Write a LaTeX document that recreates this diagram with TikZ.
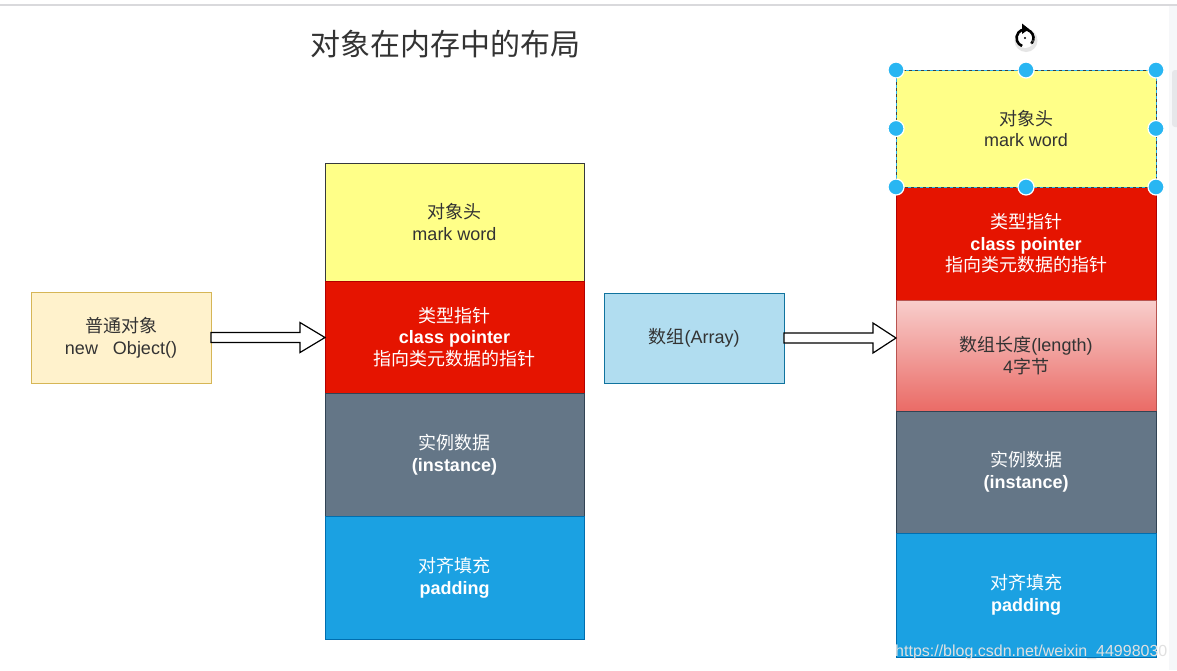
\documentclass[tikz,border=0pt]{standalone}
\usepackage{fontspec}
\setmainfont{Liberation Sans}
\newfontfamily\cjk{Noto Sans CJK SC}
\usetikzlibrary{calc,arrows.meta}
\definecolor{yelfill}{HTML}{FFFF88}
\definecolor{yelline}{HTML}{36393D}
\definecolor{redfill}{HTML}{E51400}
\definecolor{redline}{HTML}{B20000}
\definecolor{grayfill}{HTML}{647687}
\definecolor{grayline}{HTML}{314354}
\definecolor{bluefill}{HTML}{1BA1E2}
\definecolor{blueline}{HTML}{006EAF}
\definecolor{beigefill}{HTML}{FFF2CC}
\definecolor{beigeline}{HTML}{D6B656}
\definecolor{arrfill}{HTML}{B1DDF0}
\definecolor{arrline}{HTML}{10739E}
\definecolor{pinktop}{HTML}{F8CECC}
\definecolor{pinkbot}{HTML}{EA6B66}
\definecolor{pinkline}{HTML}{B85450}
\definecolor{selblue}{HTML}{29B6F2}
\definecolor{darktext}{HTML}{333333}
\definecolor{topline}{HTML}{D9D9DC}
\definecolor{stripgray}{HTML}{F6F7F9}
\definecolor{thumbgray}{HTML}{E6E7EA}
\begin{document}
\begin{tikzpicture}[x=1pt,y=-1pt,
  lbl/.style={font=\fontsize{18}{21.6}\selectfont, align=center},
  blk/.style={lbl, draw, line width=1pt, inner sep=0pt, outer sep=0pt},
  lstk/.style={blk, minimum width=259pt},
  rstk/.style={blk, minimum width=260pt},
  yelblk/.style={fill=yelfill, draw=yelline, text=darktext},
  redblk/.style={fill=redfill, draw=redline, text=white},
  grayblk/.style={fill=grayfill, draw=grayline, text=white},
  blueblk/.style={fill=bluefill, draw=blueline, text=white},
  flex/.style={draw=black, fill=white, line width=1.2pt, line join=miter},
  handle/.style={circle, fill=selblue, draw=white, line width=1.2pt, minimum size=16pt, inner sep=0pt},
]
\useasboundingbox (0,0) rectangle (1177,670);
\fill[white] (0,0) rectangle (1177,670);
\fill[stripgray] (1169,6) rectangle (1177,670);
\fill[thumbgray, rounded corners=3pt] (1172,70) rectangle (1180,127);
\fill[topline] (0,3.5) rectangle (1177,6);

% title
\node[text=darktext, font=\cjk\fontsize{30}{36}\selectfont] (title) at (445,44) {对象在内存中的布局};

% left object
\node[blk, fill=beigefill, draw=beigeline, text=darktext, minimum width=180pt, minimum height=91pt] (obj) at (121,337.5)
  {{\cjk 普通对象}\\new\ \ \ Object()};

% left stack
\node[lstk, yelblk, minimum height=118pt] (lyel) at (454.5,222) {{\cjk 对象头}\\mark word};
\node[lstk, redblk, minimum height=112pt] (lred) at (454.5,337) {{\cjk 类型指针}\\\textbf{class pointer}\\{\cjk 指向类元数据的指针}};
\node[lstk, grayblk, minimum height=123pt] (lgray) at (454.5,454.5) {{\cjk 实例数据}\\\textbf{(instance)}};
\node[lstk, blueblk, minimum height=123pt] (lblue) at (454.5,577.5) {{\cjk 对齐填充}\\\textbf{padding}};

% array
\node[blk, fill=arrfill, draw=arrline, text=darktext, minimum width=180pt, minimum height=90pt] (arr) at (694,338)
  {{\cjk 数组}(Array)};

% right stack
\node[rstk, yelblk, minimum height=117pt] (ryel) at (1026,128.5) {{\cjk 对象头}\\mark word};
\node[rstk, redblk, minimum height=113pt] (rred) at (1026,243.5) {{\cjk 类型指针}\\\textbf{class pointer}\\{\cjk 指向类元数据的指针}};
\node[rstk, top color=pinktop, bottom color=pinkbot, draw=pinkline, text=darktext, minimum height=111pt] (rpink) at (1026,355.5) {{\cjk 数组长度}(length)\\4{\cjk 字节}};
\node[rstk, grayblk, minimum height=122pt] (rgray) at (1026,472) {{\cjk 实例数据}\\\textbf{(instance)}};
\node[rstk, blueblk, minimum height=124pt] (rblue) at (1026,595) {{\cjk 对齐填充}\\\textbf{padding}};

% flex arrows
\draw[flex] (obj.east) ++(0,-5) -- ++(89,0) -- ++(0,-10) -- ++(25,15) -- ++(-25,15) -- ++(0,-10) -- ++(-89,0) -- cycle;
\draw[flex] (arr.east) ++(0,-5) -- ++(89,0) -- ++(0,-10) -- ++(23,15) -- ++(-23,15) -- ++(0,-10) -- ++(-89,0) -- cycle;

% selection on right header
\draw[selblue, line width=1pt] (ryel.north west) rectangle (ryel.south east);
\draw[black!75, line width=1pt, dash pattern=on 3pt off 3pt] (ryel.north west) rectangle (ryel.south east);
\foreach \a in {north west,north,north east,west,east,south west,south,south east}
  \node[handle] at (ryel.\a) {};

% rotate icon
\coordinate (rot) at (1025,38);
\fill[black!10] ($(rot)+(1,2.5)$) circle (11.5);
\fill[white] (rot) circle (10);
\draw[black, line width=2.6pt] ($(rot)+(40:8.5)$) arc (40:-250:8.5);
\fill[black] ($(rot)+(-3,-14.5)$) -- ++(7,5.5) -- ++(-7,5) -- cycle;
\fill[black!70] ($(rot)+(40:8.5)$) circle (0.9);
\fill[black!50] ($(rot)+(20:8.5)$) circle (0.9);
\fill[black] (rot) circle (1.1);

% watermark
\node[anchor=base west, inner sep=0pt, text=black!12, font=\fontsize{16}{19}\selectfont] (wm) at (895,656) {https://blog.csdn.net/weixin\_44998030};
\end{tikzpicture}
\end{document}
